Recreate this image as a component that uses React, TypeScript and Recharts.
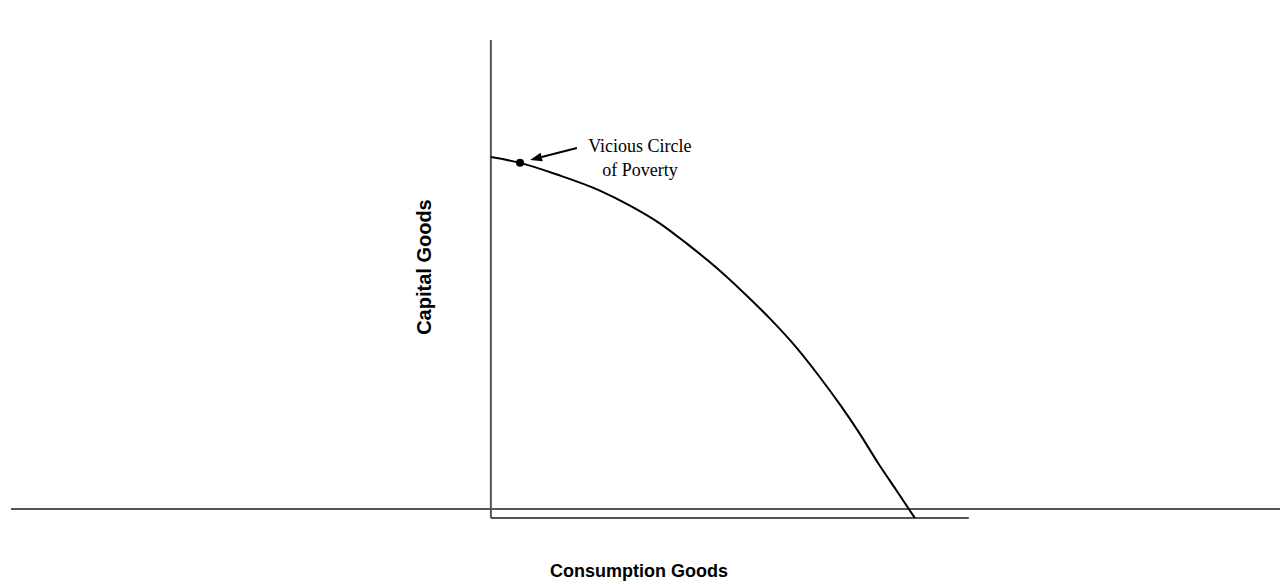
import { ComposedChart, Line, Scatter, XAxis, YAxis, ReferenceLine, ReferenceDot, Label } from 'recharts';

// production possibility frontier
const consumption = [0, 6.1, 14, 22.8, 29, 35.4, 41, 46.9, 52.5, 58.4, 63.8, 68.8, 73.2, 77.2, 81, 84.9, 88.7];
const capital = [75.5, 74.3, 71.8, 68.5, 65.4, 61.6, 57.4, 52.6, 47.5, 41.7, 35.8, 29.5, 23.5, 17.6, 11.5, 5.7, 0];

const frontier = consumption.map((c, i) => ({ x: c, y: capital[i] }));

const pointX = [6.1];
const pointY = [74.3];
const point = pointX.map((x, i) => ({ x, y: pointY[i] }));

const arrowFrom = { x: 18.0, y: 77.4 };
const arrowTo = { x: 8.2, y: 74.9 };
const noteLines = ['Vicious Circle', 'of Poverty'];

const Arrow = (props: any) => {
  const { x1, y1, x2, y2 } = props;
  const ang = Math.atan2(y2 - y1, x2 - x1);
  const len = 12;
  const w = 4.5;
  const bx = x2 - len * Math.cos(ang);
  const by = y2 - len * Math.sin(ang);
  const px = -Math.sin(ang) * w;
  const py = Math.cos(ang) * w;
  return (
    <g>
      <line x1={x1} y1={y1} x2={bx} y2={by} stroke="#000" strokeWidth={2} />
      <polygon points={`${x2},${y2} ${bx + px},${by + py} ${bx - px},${by - py}`} fill="#000" />
      <text fontFamily="'Liberation Serif', 'Times New Roman', serif" fontSize={18} fill="#000" textAnchor="middle">
        <tspan x={x1 + 63} y={y1 + 4}>{noteLines[0]}</tspan>
        <tspan x={x1 + 63} y={y1 + 28}>{noteLines[1]}</tspan>
      </text>
    </g>
  );
};

export default function App() {
  return (
    <div style={{ position: 'absolute', left: 0, top: 0 }}>
      <ComposedChart width={1280} height={584} margin={{ top: 40, right: 0, bottom: 66, left: 11 }}>
        <XAxis type="number" dataKey="x" domain={[-100.4, 165.1]} hide />
        <YAxis type="number" dataKey="y" domain={[0, 100]} hide />
        <ReferenceLine y={1.9} stroke="#555" strokeWidth={2} />
        <ReferenceLine segment={[{ x: 0, y: 0 }, { x: 0, y: 100 }]} stroke="#555" strokeWidth={2} />
        <ReferenceLine segment={[{ x: 0, y: 0 }, { x: 100, y: 0 }]} stroke="#555" strokeWidth={2} />
        <Line data={frontier} dataKey="y" type="monotone" stroke="#000" strokeWidth={2} dot={false} isAnimationActive={false} />
        <Scatter data={point} fill="#000" isAnimationActive={false} shape={(p: any) => <circle cx={p.cx} cy={p.cy} r={4} fill="#000" />} />
        <ReferenceLine segment={[arrowFrom, arrowTo]} shape={Arrow} />
        <ReferenceDot x={-14} y={52.5} r={0} stroke="none" ifOverflow="visible">
          <Label value="Capital Goods" angle={-90} position="center" fontFamily="Arial, 'Liberation Sans', sans-serif" fontWeight="bold" fontSize={20} fill="#000" />
        </ReferenceDot>
        <ReferenceDot x={31} y={-11} r={0} stroke="none" ifOverflow="visible">
          <Label value="Consumption Goods" position="center" fontFamily="Arial, 'Liberation Sans', sans-serif" fontWeight="bold" fontSize={18} fill="#000" />
        </ReferenceDot>
      </ComposedChart>
    </div>
  );
}
